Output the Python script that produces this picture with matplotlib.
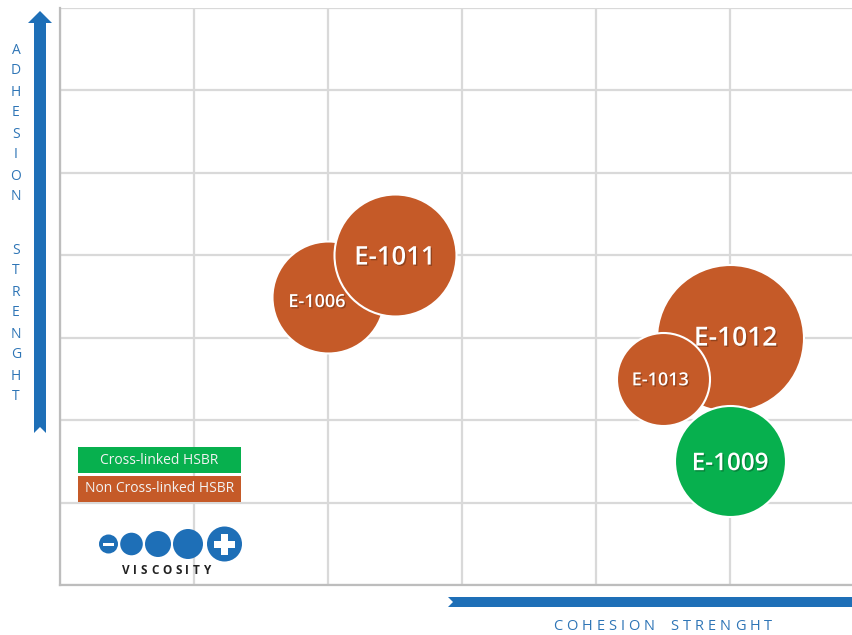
import matplotlib
matplotlib.use("Agg")
import matplotlib.pyplot as plt
import matplotlib.patheffects as pe
from matplotlib.patches import Polygon, Rectangle, Circle

# bubble data
products = ["E-1006", "E-1011", "E-1012", "E-1013", "E-1009"]
cohesion = [2.0, 2.5, 5.0, 4.5, 5.0]
adhesion = [3.5, 4.0, 3.0, 2.5, 1.5]
viscosity = [56, 61, 73.5, 46.5, 55.5]        # bubble radius, px
crosslinked = [False, False, False, False, True]

legend_labels = ["Cross-linked HSBR", "Non Cross-linked HSBR"]

# styling
orange = "#C55A28"
green = "#07B04E"
blue = "#1E6FB7"
text_blue = "#2E75B6"
label_sizes = [13, 18.5, 19, 13, 17.5]
label_offsets = [(-8, -4), (0, -2), (4, -1), (-2, -1), (0, -2)]

W, H, DPI = 853, 635, 100
fig = plt.figure(figsize=(W / DPI, H / DPI), dpi=DPI)
plt.rcParams["font.family"] = ["Open Sans", "DejaVu Sans"]

# main plotting area (runs past the right edge like the original)
ax = fig.add_axes([60 / W, (H - 585) / H, 804 / W, 577 / H])
ax.set_xlim(0, 6)
ax.set_ylim(0, 7)
ax.set_xticks(range(0, 7))
ax.set_yticks(range(0, 8))
ax.tick_params(length=0, labelbottom=False, labelleft=False)
ax.grid(True, color="#D9D9D9", lw=1.6)
ax.set_axisbelow(True)
for side in ["top", "right"]:
    ax.spines[side].set_visible(False)
for side in ["left", "bottom"]:
    ax.spines[side].set_color("#BDBDBD")
    ax.spines[side].set_linewidth(1.6)

for i, name in enumerate(products):
    col = green if crosslinked[i] else orange
    d_pt = 2 * viscosity[i] * 72 / DPI
    ax.scatter(cohesion[i], adhesion[i], s=d_pt ** 2, color=col,
               edgecolor="white", linewidth=1.5, zorder=3 + i)
    ax.annotate(name, (cohesion[i], adhesion[i]), xytext=label_offsets[i],
                textcoords="offset points", ha="center", va="center",
                color="white", fontsize=label_sizes[i], fontweight=600,
                zorder=10 + i,
                path_effects=[pe.withSimplePatchShadow(offset=(1, -1),
                                                       shadow_rgbFace="black",
                                                       alpha=0.25)])

# overlay in pixel coordinates for arrows, titles, legend and icon
deco = fig.add_axes([0, 0, 1, 1])
deco.set_xlim(0, W)
deco.set_ylim(H, 0)
deco.axis("off")

deco.add_patch(Polygon([(34, 433), (40, 427), (46, 433), (46, 23), (52, 23),
                        (40, 11), (28, 23), (34, 23)], closed=True,
                       color=blue, lw=0))
deco.add_patch(Polygon([(448, 597), (453, 602), (448, 607), (880, 607),
                        (880, 597)], closed=True, color=blue, lw=0))

renderer = fig.canvas.get_renderer()


def tracked(x, y, s, track, space, **kw):
    for ch in s:
        if ch == " ":
            x += space
            continue
        t = deco.text(x, y, ch, ha="left", va="center", **kw)
        x += t.get_window_extent(renderer).width + track


for j, word in enumerate(["ADHESION", "STRENGHT"]):
    for i, ch in enumerate(word):
        deco.text(16, 50 + 200 * j + 21 * i, ch, ha="center", va="center",
                  fontsize=10, color=text_blue)

tracked(553, 627, "COHESION STRENGHT", 4.0, 12, fontsize=10.5, color=text_blue)

# legend boxes
for k, (lab, col) in enumerate(zip(legend_labels, [green, orange])):
    y0 = 447 + 29 * k
    deco.add_patch(Rectangle((78, y0), 163, 26, color=col, lw=0))
    deco.text(159.5, y0 + 13, lab, ha="center", va="center",
              fontsize=10, color="#F2F2F2")

# viscosity icon
for cx, r in [(108.5, 9.5), (131.5, 11.3), (158, 13), (188, 15), (224.5, 17.5)]:
    deco.add_patch(Circle((cx, 544), r, color=blue, lw=0))
deco.add_patch(Rectangle((103, 542.5), 11, 3.5, color="white", lw=0))
deco.add_patch(Rectangle((214, 541), 21, 6.5, color="white", lw=0))
deco.add_patch(Rectangle((221.2, 533.5), 6.5, 21, color="white", lw=0))
tracked(122, 570, "VISCOSITY", 3.7, 6, fontsize=8.5, fontweight="bold",
        color="#222222")

fig.savefig("out.png", dpi=DPI)
